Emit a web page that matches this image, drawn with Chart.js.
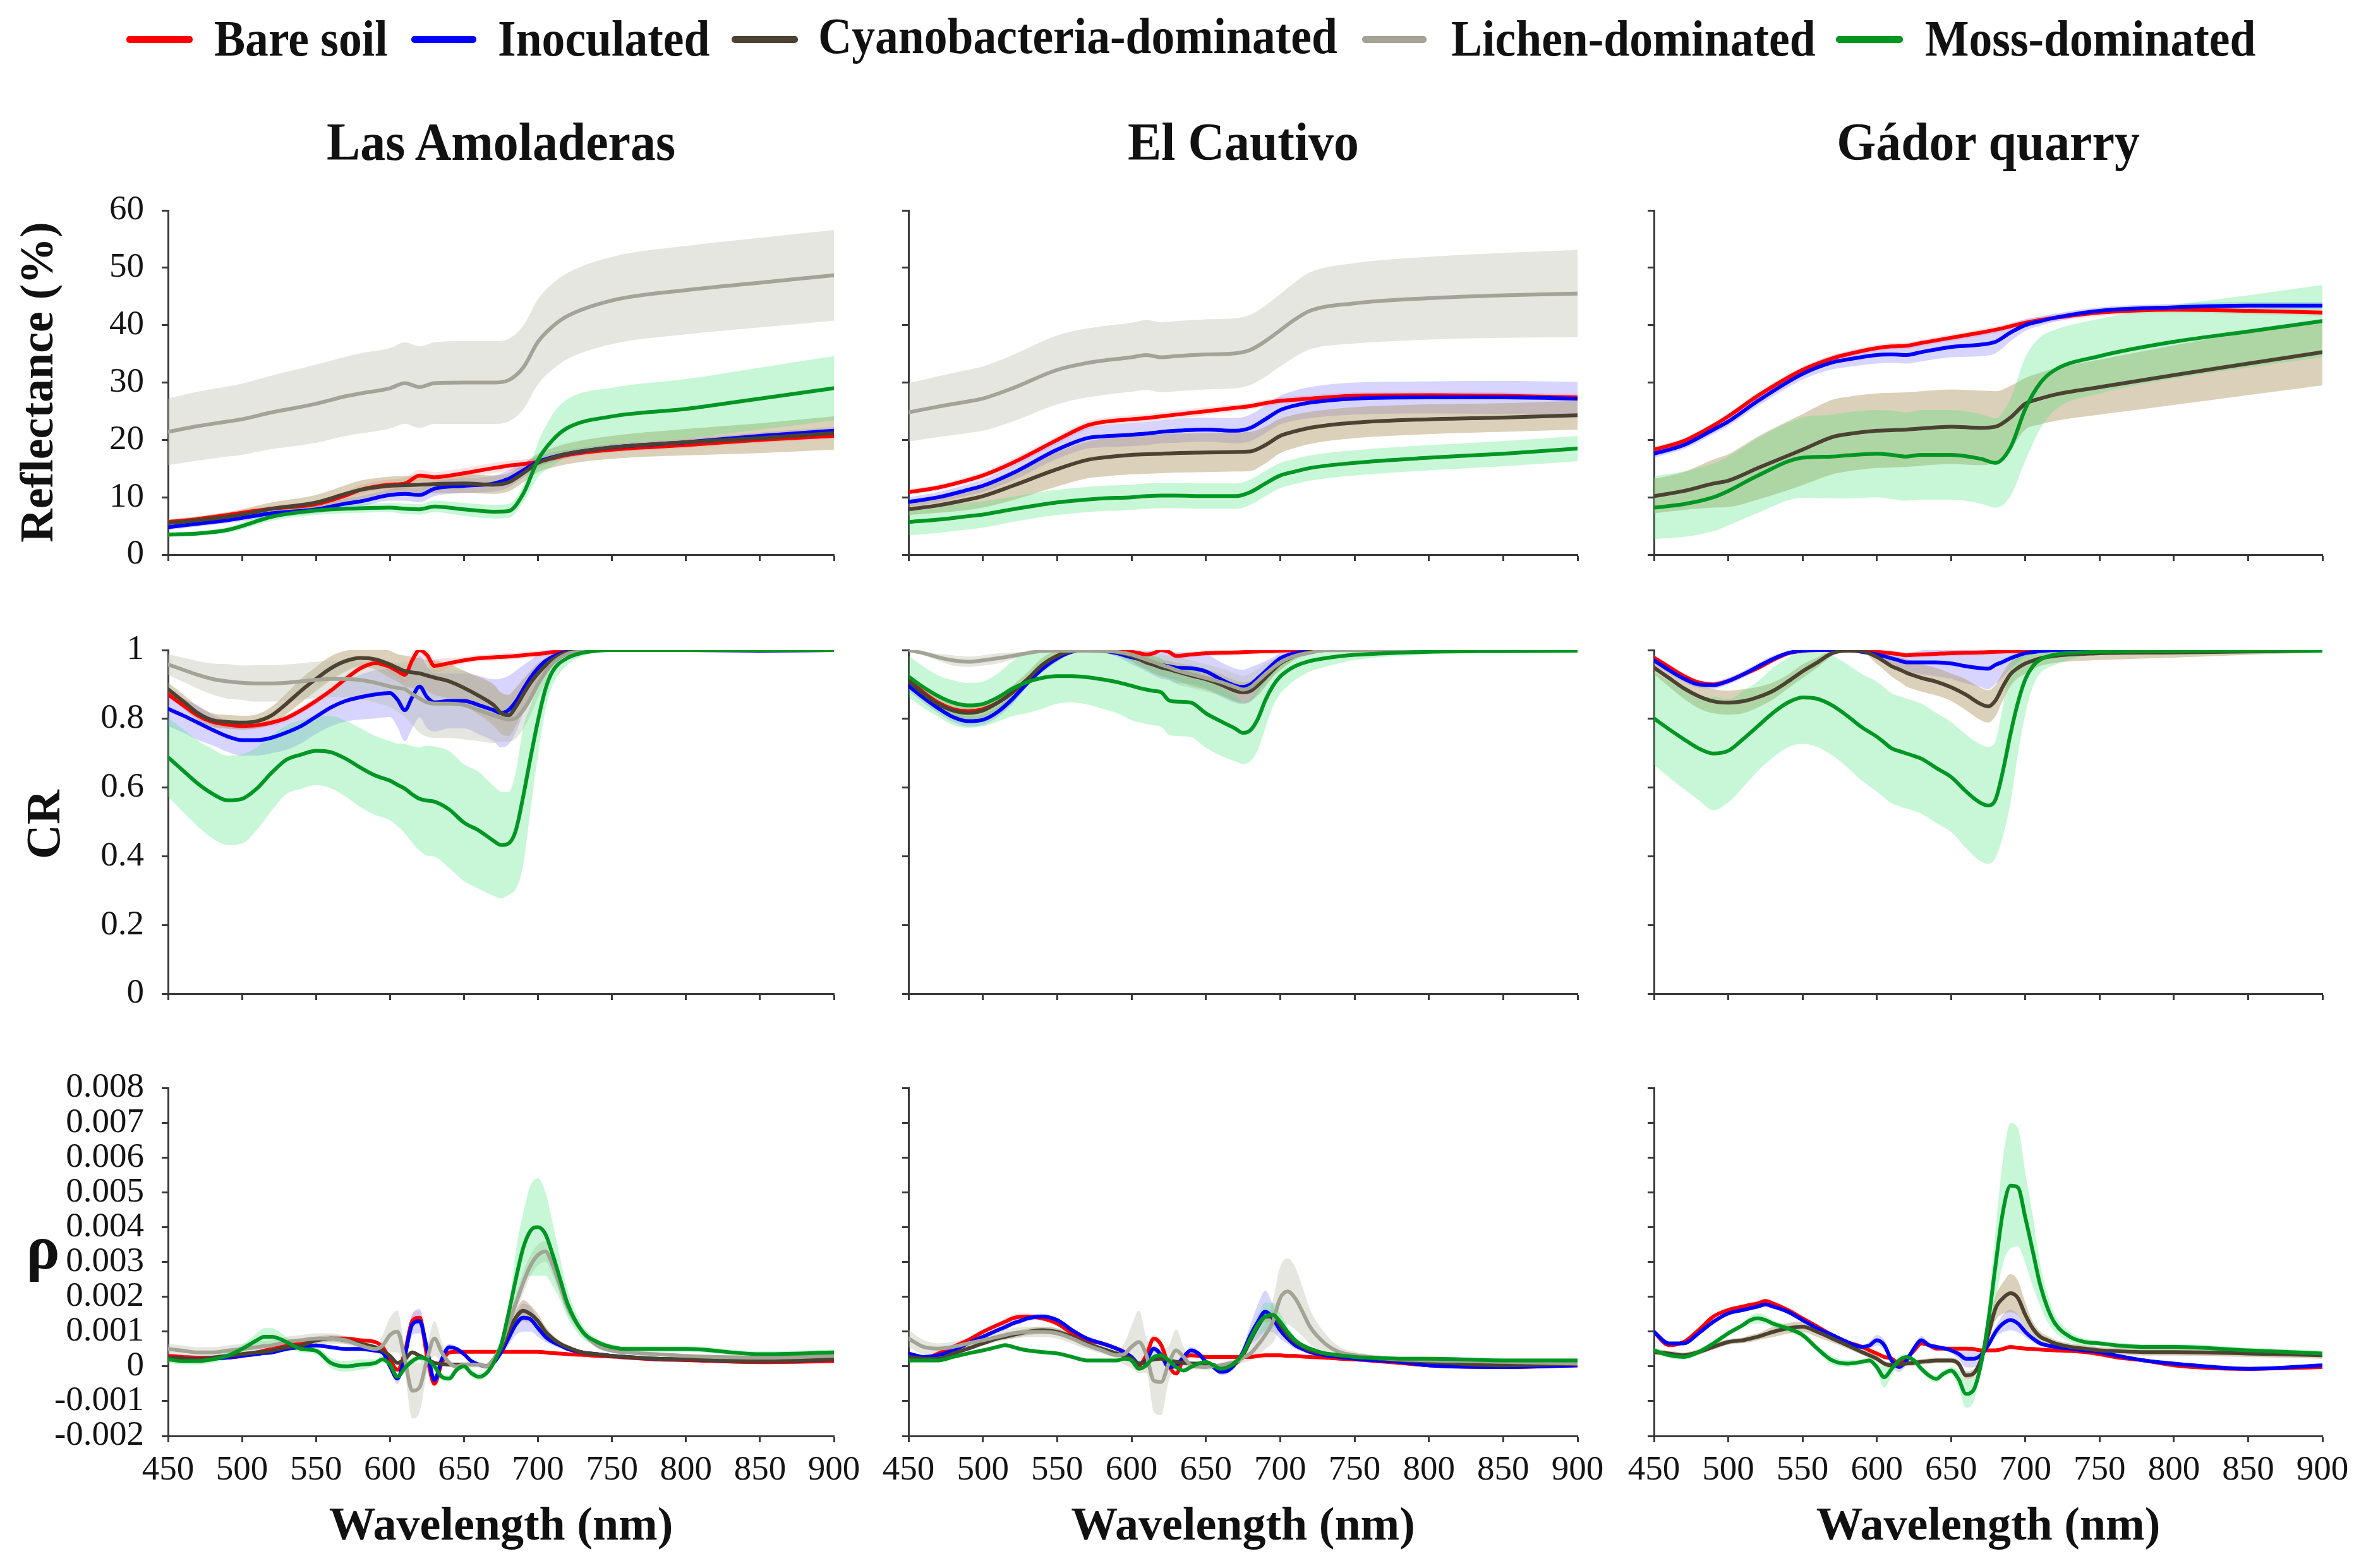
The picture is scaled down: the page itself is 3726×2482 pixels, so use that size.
<!DOCTYPE html>
<html>
<head>
<meta charset="utf-8">
<script src="https://cdn.jsdelivr.net/npm/chart.js@4.4.1/dist/chart.umd.min.js"></script>
<style>
  html, body { margin:0; padding:0; background:#fff; }
  #root { position:relative; width:3726px; height:2482px; background:#fff; overflow:hidden; font-family:'Liberation Serif','Times New Roman',serif; }
  canvas { position:absolute; }
  .t { position:absolute; white-space:nowrap; font-family:'Liberation Serif','Times New Roman',serif; font-weight:bold; color:#111; line-height:1; }
  .lg { position:absolute; height:11px; border-radius:5px; }
  #warm { position:absolute; left:-2000px; top:0; font-family:'Liberation Serif'; font-size:55px; }
</style>
</head>
<body>
<div id="warm">0123456789.-</div>
<div id="root"></div>
<script>
// ---------------- categories / labels ----------------
const SERIES = ['Bare soil','Inoculated','Cyanobacteria-dominated','Lichen-dominated','Moss-dominated'];
const SITES = ['Las Amoladeras','El Cautivo','Gádor quarry'];
const LINE_COLORS = ['#ff0000','#0000ff','#4b4232','#a3a396','#009624'];
const BAND_COLORS = ['rgba(255,90,90,0.18)','rgba(110,100,255,0.28)','rgba(175,150,100,0.45)','rgba(185,188,172,0.38)','rgba(70,230,120,0.30)'];

// ---------------- tick values / labels ----------------
const WL_TICKS = [450,500,550,600,650,700,750,800,850,900];
const WL_TICK_LABELS = ['450','500','550','600','650','700','750','800','850','900'];
const REFL_TICKS = [0,10,20,30,40,50,60];
const REFL_TICK_LABELS = ['0','10','20','30','40','50','60'];
const CR_TICKS = [0,0.2,0.4,0.6,0.8,1];
const CR_TICK_LABELS = ['0','0.2','0.4','0.6','0.8','1'];
const RHO_TICKS = [-0.002,-0.001,0,0.001,0.002,0.003,0.004,0.005,0.006,0.007,0.008];
const RHO_TICK_LABELS = ['-0.002','-0.001','0','0.001','0.002','0.003','0.004','0.005','0.006','0.007','0.008'];
const RHO_UNIT = 0.001; // rho arrays below are written in units of 0.001

// ---------------- wavelengths (nm) ----------------
const WL_R = [450,470,490,500,520,550,570,580,600,610,620,630,650,670,680,690,700,710,720,750,800,850,900];
const WL_CR = [450,460,470,480,490,500,510,520,530,540,550,560,570,580,590,600,605,610,615,620,625,630,640,650,660,670,675,680,685,690,695,700,705,710,720,730,740,750,800,850,900];
const WL_RHO = [450,460,470,480,490,500,510,515,520,525,530,540,550,560,570,580,590,595,600,605,610,615,620,625,630,635,640,645,650,655,660,665,670,675,680,685,690,695,700,705,710,715,720,730,740,750,760,780,800,850,900];

// ================= Reflectance (%) : mean and SD =================
// Las Amoladeras
const AM_REFL_BARE   = [5.7,6.2,6.9,7.3,8.0,8.8,10.3,11.3,12.2,12.4,13.8,13.5,14.2,15.1,15.5,15.8,16.2,16.8,17.4,18.3,19.1,20.0,20.7];
const AM_REFL_INOC   = [4.8,5.4,6.0,6.4,7.2,7.9,8.9,9.3,10.4,10.6,10.4,11.5,12.0,12.4,13.2,14.7,16.2,17.0,17.6,18.7,19.6,20.7,21.6];
const AM_REFL_CYANO  = [5.5,6.0,6.6,7.0,8.0,9.1,10.6,11.3,12.0,12.1,12.2,12.3,12.4,12.2,12.6,14.2,16.0,16.9,17.6,18.7,19.6,20.3,21.2];
const AM_REFL_LICHEN = [21.4,22.4,23.2,23.6,24.8,26.3,27.6,28.1,29.0,29.9,29.2,29.9,30.0,30.0,30.4,32.6,37.1,39.8,41.6,44.3,46.1,47.4,48.7];
const AM_REFL_MOSS   = [3.5,3.7,4.3,5.0,6.6,7.7,8.0,8.1,8.2,8.0,7.9,8.4,7.9,7.5,7.6,10.6,16.5,20.0,22.1,24.1,25.4,27.2,29.0];
const AM_REFL_BARE_SD   = [0.4,0.4,0.5,0.5,0.5,0.6,0.7,0.8,0.9,1.0,1.0,0.9,0.9,0.9,0.9,0.8,0.7,0.6,0.6,0.5,0.5,0.5,0.5];
const AM_REFL_INOC_SD   = [0.5,0.5,0.5,0.6,0.6,0.7,0.8,0.9,1.0,1.2,1.3,1.3,1.3,1.4,1.5,1.3,1.0,0.8,0.7,0.6,0.6,0.6,0.6];
const AM_REFL_CYANO_SD  = [0.6,0.7,0.8,0.9,1.1,1.3,1.5,1.6,1.6,1.6,1.6,1.6,1.6,1.6,1.6,1.6,1.6,1.7,1.8,2.0,2.3,2.6,2.9];
const AM_REFL_LICHEN_SD = [5.8,6.0,6.1,6.2,6.4,6.8,6.9,7.0,7.0,7.1,7.1,7.1,7.2,7.2,7.2,7.3,7.4,7.5,7.5,7.6,7.7,7.8,7.9];
const AM_REFL_MOSS_SD   = [0.4,0.4,0.5,0.6,0.7,0.8,0.8,0.8,0.8,0.9,0.9,1.0,1.1,1.2,1.2,1.5,3.0,4.5,5.0,5.0,5.2,5.4,5.6];
// El Cautivo
const EC_REFL_BARE   = [10.9,11.7,13.0,13.8,16.0,20.0,22.5,23.1,23.6,23.8,24.1,24.4,25.0,25.6,25.9,26.4,26.8,27.0,27.2,27.7,27.8,27.7,27.4];
const EC_REFL_INOC   = [9.2,10.0,11.3,12.0,14.2,18.3,20.3,20.6,20.9,21.1,21.4,21.6,21.8,21.6,22.1,23.6,25.2,26.0,26.5,27.2,27.4,27.4,27.2];
const EC_REFL_CYANO  = [7.9,8.6,9.6,10.2,12.0,14.9,16.5,16.9,17.4,17.5,17.6,17.7,17.8,17.9,18.0,19.1,20.7,21.5,22.1,23.0,23.6,23.9,24.3];
const EC_REFL_LICHEN = [24.8,25.8,26.7,27.2,29.0,32.2,33.4,33.8,34.4,34.8,34.4,34.6,34.9,35.1,35.7,37.2,39.1,41.0,42.5,43.8,44.7,45.2,45.5];
const EC_REFL_MOSS   = [5.7,6.1,6.7,7.0,7.9,9.1,9.6,9.8,10.0,10.2,10.3,10.3,10.2,10.2,10.9,12.4,13.8,14.5,15.1,16.0,16.9,17.6,18.5];
const EC_REFL_BARE_SD   = [0.5,0.5,0.6,0.6,0.7,0.7,0.7,0.7,0.7,0.7,0.7,0.7,0.7,0.6,0.6,0.6,0.6,0.6,0.6,0.6,0.6,0.6,0.6];
const EC_REFL_INOC_SD   = [0.8,0.9,1.0,1.1,1.3,1.6,1.8,1.9,2.0,2.0,2.0,2.1,2.1,2.2,2.3,2.4,2.5,2.6,2.7,2.8,2.8,2.9,2.9];
const EC_REFL_CYANO_SD  = [1.0,1.3,1.8,2.0,2.5,3.0,3.2,3.3,3.4,3.4,3.4,3.4,3.4,3.4,3.4,3.2,3.0,2.9,2.8,2.7,2.6,2.5,2.5];
const EC_REFL_LICHEN_SD = [5.1,5.3,5.5,5.6,5.8,6.0,6.0,6.0,6.0,6.1,6.1,6.1,6.1,6.1,6.1,6.2,6.3,6.5,6.7,7.0,7.2,7.4,7.6];
const EC_REFL_MOSS_SD   = [2.3,2.3,2.3,2.3,2.2,2.2,2.2,2.2,2.2,2.2,2.2,2.2,2.2,2.2,2.2,2.2,2.2,2.2,2.2,2.2,2.2,2.2,2.2];
// Gádor quarry
const GQ_REFL_BARE   = [18.3,19.8,22.5,24.1,27.7,32.2,34.2,34.9,36.0,36.3,36.4,36.9,37.8,38.7,39.2,39.8,40.4,40.9,41.3,42.2,42.7,42.5,42.2];
const GQ_REFL_INOC   = [17.6,19.1,21.8,23.2,26.8,31.5,33.5,34.0,34.8,34.9,34.8,35.3,36.2,36.6,37.1,38.7,40.0,40.7,41.3,42.5,43.1,43.4,43.4];
const GQ_REFL_CYANO  = [10.2,11.1,12.4,12.9,15.1,18.3,20.5,21.0,21.6,21.7,21.8,22.0,22.3,22.1,22.3,23.9,26.3,27.2,27.9,29.2,31.3,33.3,35.3];
const GQ_REFL_MOSS   = [8.2,8.8,10.0,11.1,13.8,16.9,17.1,17.3,17.6,17.4,17.1,17.4,17.4,16.7,16.0,18.7,25.4,29.9,32.2,34.6,37.1,38.9,40.7];
const GQ_REFL_BARE_SD  = [0.5,0.5,0.5,0.5,0.6,0.6,0.6,0.6,0.6,0.6,0.6,0.6,0.6,0.6,0.6,0.6,0.6,0.6,0.6,0.6,0.6,0.6,0.6];
const GQ_REFL_INOC_SD  = [0.7,0.7,0.8,0.8,0.9,1.0,1.2,1.3,1.5,1.5,1.5,1.6,1.8,2.0,2.0,1.5,1.0,0.8,0.7,0.6,0.6,0.6,0.6];
const GQ_REFL_CYANO_SD = [3.0,3.3,4.2,4.6,5.5,6.2,6.5,6.5,6.5,6.5,6.5,6.5,6.5,6.5,6.2,5.5,4.5,4.5,4.6,4.8,5.2,5.5,5.8];
const GQ_REFL_MOSS_SD  = [5.5,5.7,5.9,6.0,6.5,7.0,7.3,7.5,7.6,7.7,7.7,7.8,7.8,7.8,7.8,8.5,9.0,8.0,7.0,6.5,6.4,6.3,6.3];

// ================= CR : mean and SD =================
// Las Amoladeras
const AM_CR_BARE   = [.871,.840,.810,.791,.783,.779,.781,.789,.802,.825,.852,.882,.916,.947,.962,.951, .939,.928,.970,1.0,.985,.954, .962,.970,.976,.979, .980,.981,.983,.985,.987,.989,.991,.994, .998,1,1,1, 1,1,1];
const AM_CR_INOC   = [.829,.810,.789,.768,.749,.738,.738,.745,.760,.779,.806,.833,.852,.863,.871,.875, .856,.825,.863,.894,.863,.848, .852,.852,.840,.825, .817,.825,.850,.886,.920,.947,.968,.981, .996,1,1,1, 1,.998,1];
const AM_CR_CYANO  = [.886,.852,.817,.796,.791,.789,.793,.810,.844,.882,.916,.947,.968,.977,.973,.958, .948,.939,.935,.932,.926,.920, .909,.890,.867,.840, .817,.810,.835,.871,.905,.932,.955,.973, .994,1,1,1, 1,1,1];
const AM_CR_LICHEN = [.958,.943,.928,.916,.909,.905,.903,.903,.905,.909,.913,.916,.916,.913,.905,.894, .890,.886,.872,.859,.848,.844, .844,.840,.825,.810, .803,.798,.802,.825,.860,.901,.935,.962, .989,.996,1,1, 1,1,1];
const AM_CR_MOSS   = [.688,.650,.612,.582,.563,.567,.597,.643,.681,.696,.707,.703,.684,.658,.635,.620, .608,.597,.580,.567,.562,.559, .536,.498,.475,.445, .433,.437,.475,.574,.688,.795,.886,.939, .977,.992,.998,1, 1,1,1];
const AM_CR_BARE_SD   = [.01,.01,.01,.01,.01,.01,.01,.01,.01,.01,.01,.01,.01,.01,.01,.015, .02,.02,.02,.02,.02,.02, .015,.01,.01,.01, .01,.01,.01,.01,.01,.01,.01,.01, .005,0,0,0, 0,0,0];
const AM_CR_INOC_SD   = [.05,.05,.05,.045,.045,.045,.045,.045,.05,.05,.05,.055,.06,.065,.07,.07, .08,.09,.09,.09,.09,.085, .08,.08,.085,.09, .1,.1,.09,.07,.05,.04,.03,.02, .01,.005,0,0, 0,0,0];
const AM_CR_CYANO_SD  = [.02,.02,.02,.02,.02,.02,.02,.025,.03,.035,.035,.035,.03,.025,.03,.04, .04,.045,.045,.045,.045,.05, .05,.05,.055,.06, .06,.06,.055,.045,.035,.03,.02,.015, .01,.005,0,0, 0,0,0];
const AM_CR_LICHEN_SD = [.03,.035,.04,.045,.05,.05,.053,.053,.053,.053,.053,.053,.053,.055,.058,.06, .07,.08,.09,.1,.1,.1, .1,.1,.09,.08, .07,.065,.06,.055,.05,.04,.03,.02, .01,.005,0,0, 0,0,0];
const AM_CR_MOSS_SD   = [.115,.12,.125,.13,.13,.13,.12,.11,.1,.1,.1,.105,.11,.115,.115,.115, .12,.13,.14,.15,.16,.16, .17,.17,.17,.16, .155,.15,.17,.2,.15,.1,.06,.04, .02,.01,.005,0, 0,0,0];
// El Cautivo
const EC_CR_BARE   = [.915,.877,.847,.828,.822,.828,.847,.877,.915,.953,.983,.998,1,1,.998,.995, .991,.987,.991,1,.995,.983, .987,.991,.992,.993, .994,.995,.996,.997,.997,.998,.999,1, 1,1,1,1, 1,1,1];
const EC_CR_INOC   = [.896,.862,.831,.805,.793,.797,.820,.858,.904,.945,.976,.995,1,.998,.991,.979, .974,.968,.962,.957,.953,.949, .947,.938,.915,.896, .893,.900,.918,.938,.958,.976,.985,.991, .998,1,1,1, 1,1,1];
const EC_CR_CYANO  = [.911,.873,.843,.824,.817,.824,.847,.877,.915,.957,.983,.997,1,.998,.995,.983, .974,.964,.957,.949,.944,.938, .926,.915,.900,.881, .877,.881,.898,.919,.941,.961,.973,.983, .995,1,1,1, 1,1,1];
const EC_CR_LICHEN = [1.0,.991,.979,.970,.966,.970,.976,.983,.991,.997,.998,.998,.998,.997,.995,.987, .980,.972,.965,.957,.950,.942, .930,.919,.907,.892, .885,.892,.910,.930,.948,.964,.975,.983, .992,1,1,1, 1,1,1];
const EC_CR_MOSS   = [.923,.892,.866,.847,.839,.843,.862,.888,.907,.919,.924,.924,.921,.915,.907,.896, .890,.885,.881,.877,.854,.850, .847,.816,.793,.771, .759,.767,.800,.854,.895,.923,.940,.953, .968,.976,.982,.986, .995,.997,.998];
const EC_CR_BARE_SD   = [.008,.008,.008,.008,.008,.008,.008,.008,.008,.008,.008,.008,.008,.008,.008,.008, .008,.008,.008,.008,.008,.008, .008,.008,.008,.008, .008,.008,.008,.008,.008,.008,.008,.008, .008,.008,.008,.008, .008,.008,.008];
const EC_CR_INOC_SD   = [.015,.015,.015,.015,.015,.015,.015,.015,.01,.01,.01,.005,0,.005,.01,.02, .025,.03,.035,.04,.04,.045, .045,.05,.05,.05, .05,.05,.04,.03,.02,.015,.01,.01, .005,0,0,0, 0,0,0];
const EC_CR_CYANO_SD  = [.02,.02,.02,.02,.02,.02,.02,.02,.02,.02,.015,.005,0,.005,.01,.015, .02,.02,.025,.025,.025,.025, .03,.03,.03,.03, .03,.03,.03,.025,.02,.02,.015,.01, .005,0,0,0, 0,0,0];
const EC_CR_LICHEN_SD = [0,.005,.01,.015,.015,.015,.015,.01,.005,.003,.002,.002,.002,.003,.005,.01, .015,.02,.025,.03,.035,.04, .04,.04,.04,.04, .04,.04,.035,.03,.025,.02,.015,.01, .005,0,0,0, 0,0,0];
const EC_CR_MOSS_SD   = [.06,.06,.06,.065,.065,.065,.07,.08,.09,.09,.08,.076,.079,.085,.09,.1, .1,.1,.1,.1,.1,.1, .1,.1,.1,.095, .09,.09,.09,.08,.06,.05,.045,.04, .03,.025,.02,.015, .008,.005,.003];
// Gádor quarry
const GQ_CR_BARE   = [.978,.951,.925,.906,.900,.910,.929,.948,.971,.990,.998,1,1,1,.998,.995, .993,.991,.988,.985,.986,.987, .989,.991,.992,.993, .994,.995,.996,.997,.997,.998,.999,1, 1,1,1,1, 1,1,1];
const GQ_CR_INOC   = [.970,.942,.917,.900,.898,.910,.929,.952,.974,.991,.998,1,1,1,.995,.987, .982,.976,.970,.964,.964,.964, .964,.961,.953,.947, .946,.957,.966,.976,.984,.991,.994,.997, 1,1,1,1, 1,1,1];
const GQ_CR_CYANO  = [.949,.919,.889,.866,.851,.847,.851,.863,.881,.908,.938,.964,.991,.998,.997,.980, .967,.953,.944,.934,.926,.919, .908,.892,.870,.843, .836,.854,.895,.930,.948,.961,.969,.976, .983,.987,.989,.991, .993,.996,.998];
const GQ_CR_MOSS   = [.801,.770,.741,.714,.699,.707,.741,.779,.817,.847,.862,.858,.839,.809,.775,.748, .731,.714,.706,.699,.692,.684, .657,.631,.589,.555, .548,.566,.650,.756,.847,.915,.953,.972, .987,.992,.994,.995, .997,.998,.998];
const GQ_CR_BARE_SD  = [.008,.008,.008,.008,.008,.008,.008,.008,.008,.008,.008,.008,.008,.008,.008,.008, .008,.008,.008,.008,.008,.008, .008,.008,.008,.008, .008,.008,.008,.008,.008,.008,.008,.008, .008,.008,.008,.008, .008,.008,.008];
const GQ_CR_INOC_SD  = [.01,.01,.01,.01,.01,.01,.01,.01,.01,.005,.002,0,0,0,.005,.01, .012,.015,.02,.025,.03,.035, .04,.045,.05,.055, .06,.055,.045,.03,.02,.01,.005,.003, 0,0,0,0, 0,0,0];
const GQ_CR_CYANO_SD = [.02,.025,.03,.035,.035,.035,.035,.03,.025,.02,.02,.015,.008,.002,.003,.02, .025,.03,.035,.04,.04,.04, .04,.04,.045,.047, .047,.045,.04,.035,.03,.03,.025,.022, .02,.02,.02,.02, .015,.01,.005];
const GQ_CR_MOSS_SD  = [.135,.14,.145,.15,.165,.15,.14,.13,.13,.13,.135,.14,.145,.15,.155,.16, .16,.16,.16,.16,.16,.16, .16,.16,.165,.17, .17,.17,.19,.2,.15,.1,.06,.04, .03,.02,.01,.005, .003,.002,.002];

// ================= rho (units of 0.001) : mean and SD =================
// Las Amoladeras
const AM_RHO_BARE   = [.3,.27,.25,.25,.25,.3,.4, .45,.5,.55,.6,.65,.75,.8, .8,.75,.7,.55,.2, -.1,.4,1.3,1.4,.3,-.5,.1,.4, .42,.42,.42,.42,.42,.42,.42,.42, .42,.42,.42,.42,.4,.38,.37,.35, .33,.3,.28,.25,.2,.18,.12,.15];
const AM_RHO_INOC   = [.25,.22,.2,.22,.25,.3,.35, .38,.4,.45,.5,.55,.6,.55, .5,.5,.45,.4,0, -.35,.3,1.2,1.3,.5,-.4,.2,.55, .5,.35,.15,.05,0,.1,.4,.8, 1.2,1.4,1.35,1.1,.85,.7,.6,.5, .4,.35,.3,.27,.22,.2,.15,.2];
const AM_RHO_CYANO  = [.25,.22,.2,.25,.3,.35,.4, .42,.45,.5,.55,.6,.75,.8, .75,.65,.55,.45,.3, .1,.2,.4,.3,.2,.1,.07,.05, .05,.05,.05,.05,0,.2,.5,1.0, 1.4,1.6,1.5,1.3,1.0,.8,.65,.55, .4,.35,.3,.27,.22,.2,.15,.2];
const AM_RHO_LICHEN = [.5,.45,.4,.4,.45,.5,.55, .58,.6,.65,.7,.75,.8,.8, .75,.6,.5,.6,.9, 1.0,.2,-.7,-.6,.2,.8,.4,.1, 0,.05,.05,.05,0,.2,.6,1.2, 1.8,2.4,2.9,3.2,3.3,2.9,2.3,1.7, 1.0,.6,.45,.4,.35,.3,.25,.3];
const AM_RHO_MOSS   = [.2,.15,.15,.2,.3,.5,.75, .85,.85,.8,.7,.5,.45,.1, 0,.05,.1,.2,.05, -.3,-.05,.15,.25,.2,0,-.3,-.35, -.1,0,-.2,-.3,-.2,.1,.6,1.5, 2.5,3.4,3.9,4.0,3.8,3.2,2.5,1.8, 1.0,.7,.55,.5,.5,.5,.35,.4];
const AM_RHO_BARE_SD   = [.05,.05,.05,.05,.05,.05,.05, .05,.05,.05,.05,.05,.05,.05, .05,.05,.05,.05,.05, .05,.1,.2,.2,.1,.1,.05,.05, .05,.05,.05,.05,.05,.05,.05,.05, .05,.05,.05,.05,.05,.05,.05,.05, .05,.05,.05,.05,.05,.05,.05,.05];
const AM_RHO_INOC_SD   = [.05,.05,.05,.05,.05,.05,.05, .05,.05,.05,.05,.05,.05,.05, .05,.05,.05,.05,.1, .15,.2,.3,.35,.2,.15,.1,.1, .05,.05,.05,.05,.05,.05,.1,.2, .3,.4,.35,.25,.15,.1,.08,.06, .05,.05,.05,.05,.05,.05,.05,.05];
const AM_RHO_CYANO_SD  = [.06,.06,.06,.06,.06,.06,.06, .06,.06,.06,.08,.1,.1,.1, .1,.08,.06,.06,.06, .06,.06,.06,.06,.06,.06,.06,.06, .06,.06,.06,.06,.06,.06,.1,.15, .2,.3,.25,.2,.15,.1,.08,.06, .05,.05,.05,.05,.05,.05,.05,.05];
const AM_RHO_LICHEN_SD = [.15,.15,.15,.15,.15,.15,.15, .15,.15,.15,.15,.15,.15,.15, .12,.1,.1,.3,.5, .6,.4,.8,.7,.4,.5,.3,.1, .08,.08,.08,.08,.08,.1,.15,.2, .25,.3,.3,.3,.3,.3,.25,.2, .12,.08,.06,.05,.05,.05,.05,.05];
const AM_RHO_MOSS_SD   = [.1,.1,.1,.1,.1,.12,.2, .25,.25,.2,.15,.1,.1,.15, .15,.15,.1,.1,.1, .1,.1,.1,.1,.1,.1,.1,.1, .1,.1,.1,.1,.1,.1,.1,.1, .8,1.0,1.3,1.4,1.2,.9,.6,.4, .2,.1,.08,.08,.08,.08,.08,.08];
// El Cautivo
const EC_RHO_BARE   = [.27,.22,.37,.56,.75,.99,1.19, 1.28,1.38,1.42,1.43,1.38,1.23,.95, .75,.66,.51,.41,.17, .03,.32,.8,.61,.03,-.21,.22,.32, .3,.27,.27,.27,.27,.27,.27,.27, .3,.32,.32,.32,.3,.3,.28,.27, .25,.22,.2,.17,.1,.03,-.02,.03];
const EC_RHO_INOC   = [.37,.27,.32,.46,.66,.85,1.04, 1.13,1.23,1.3,1.38,1.43,1.33,1.04, .8,.66,.51,.41,.27, .08,.17,.51,.32,-.02,.03,.27,.46, .37,.13,-.02,-.16,-.12,.08,.41,.9, 1.28,1.57,1.38,1.04,.8,.61,.5,.41, .32,.27,.22,.18,.13,.03,-.02,.03];
const EC_RHO_CYANO  = [.27,.22,.22,.37,.51,.66,.8, .85,.9,.95,.99,1.04,.99,.85, .66,.51,.37,.3,.22, .08,.13,.2,.22,.18,.13,.1,.08, .08,.08,.04,-.02,0,.08,.32,.75, 1.14,1.43,1.43,1.19,.9,.7,.56,.46, .37,.32,.27,.24,.18,.13,.03,.08];
const EC_RHO_LICHEN = [.8,.56,.51,.56,.66,.75,.85, .9,.95,.97,.99,.99,.95,.8, .61,.46,.32,.35,.56, .7,.32,-.41,-.45,.08,.46,.27,.03, -.01,-.02,0,.03,.08,.13,.25,.37, .61,.9,1.28,1.96,2.15,1.96,1.57,1.14, .66,.41,.32,.27,.2,.17,.13,.08];
const EC_RHO_MOSS   = [.17,.17,.17,.27,.37,.46,.56, .61,.56,.5,.46,.41,.37,.27, .17,.17,.17,.22,.17, -.07,.03,.27,.32,.17,-.02,-.12,-.02, .08,.13,.03,-.07,-.02,.13,.37,.8, 1.19,1.43,1.48,1.28,.99,.75,.6,.51, .37,.32,.27,.25,.22,.22,.17,.17];
const EC_RHO_BARE_SD   = [.06,.06,.06,.06,.06,.06,.06, .1,.1,.1,.1,.08,.06,.06, .06,.06,.06,.06,.06, .06,.08,.1,.1,.06,.06,.06,.06, .06,.06,.06,.06,.06,.06,.06,.06, .06,.06,.06,.06,.06,.06,.06,.06, .06,.06,.06,.06,.06,.06,.06,.06];
const EC_RHO_INOC_SD   = [.06,.06,.06,.06,.06,.06,.06, .08,.08,.08,.08,.08,.06,.06, .06,.06,.06,.06,.06, .06,.08,.1,.1,.06,.06,.06,.1, .08,.06,.06,.1,.08,.06,.15,.3, .5,.6,.4,.25,.15,.1,.08,.06, .06,.06,.06,.06,.06,.06,.06,.06];
const EC_RHO_CYANO_SD  = [.06,.06,.06,.06,.06,.06,.06, .08,.1,.1,.1,.1,.1,.08, .06,.06,.06,.06,.06, .06,.06,.06,.06,.06,.06,.06,.06, .06,.06,.06,.06,.06,.06,.06,.06, .1,.15,.15,.12,.1,.08,.06,.06, .06,.06,.06,.06,.06,.06,.06,.06];
const EC_RHO_LICHEN_SD = [.25,.2,.15,.15,.15,.15,.15, .15,.15,.15,.15,.15,.15,.15, .12,.1,.1,.3,.6, .9,.5,.9,.95,.5,.6,.3,.1, .08,.08,.08,.08,.08,.1,.15,.2, .3,.4,.6,.9,.95,.9,.7,.5, .3,.15,.1,.08,.06,.06,.06,.06];
const EC_RHO_MOSS_SD   = [.05,.05,.05,.05,.05,.05,.05, .06,.06,.06,.06,.06,.06,.06, .05,.05,.05,.05,.05, .05,.05,.05,.05,.05,.05,.05,.05, .05,.05,.05,.05,.05,.05,.1,.2, .3,.4,.35,.25,.15,.1,.08,.06, .06,.06,.06,.06,.06,.06,.06,.06];
// Gádor quarry
const GQ_RHO_BARE   = [.99,.61,.7,1.04,1.43,1.62,1.72, 1.77,1.81,1.88,1.81,1.62,1.38,1.14, .9,.7,.56,.46,.37, .27,.22,.08,.22,.45,.66,.61,.51, .51,.51,.51,.51,.5,.46,.46,.46, .5,.56,.53,.51,.5,.48,.47,.46, .44,.41,.35,.27,.17,.03,-.07,-.02];
const GQ_RHO_INOC   = [.99,.66,.66,.95,1.28,1.52,1.62, 1.67,1.72,1.78,1.72,1.57,1.33,1.09, .9,.7,.56,.6,.75, .61,.17,-.02,.17,.51,.75,.61,.56, .52,.46,.36,.22,.22,.32,.61,.99, 1.23,1.33,1.23,.99,.8,.66,.6,.56, .51,.46,.41,.32,.17,.08,-.07,.03];
const GQ_RHO_CYANO  = [.41,.37,.32,.41,.56,.7,.75, .8,.85,.92,.99,1.09,1.14,.99, .8,.61,.41,.32,.22, .08,.03,.05,.08,.1,.13,.15,.17, .17,.17,.08,-.26,-.21,.17,.9,1.67, 1.96,2.1,1.96,1.48,1.09,.85,.75,.66, .56,.51,.46,.44,.41,.41,.37,.32];
const GQ_RHO_MOSS   = [.46,.32,.27,.41,.66,.95,1.19, 1.33,1.38,1.33,1.23,1.09,.9,.51, .17,.08,.13,.17,-.02, -.31,-.07,.17,.27,.17,-.07,-.26,-.36, -.21,-.12,-.36,-.79,-.69,.03,1.28,2.92, 4.46,5.19,5.14,4.27,3.31,2.34,1.67,1.23, .85,.7,.66,.61,.56,.56,.46,.37];
const GQ_RHO_BARE_SD  = [.05,.05,.05,.05,.05,.05,.05, .05,.05,.05,.05,.05,.05,.05, .05,.05,.05,.05,.05, .05,.05,.05,.05,.05,.05,.05,.05, .05,.05,.05,.05,.05,.05,.05,.05, .05,.05,.05,.05,.05,.05,.05,.05, .05,.05,.05,.05,.05,.05,.05,.05];
const GQ_RHO_INOC_SD  = [.05,.05,.05,.05,.05,.05,.05, .05,.05,.05,.05,.05,.05,.05, .05,.05,.05,.1,.15, .15,.15,.15,.12,.1,.12,.08,.06, .06,.08,.15,.25,.25,.2,.12,.15, .25,.3,.25,.15,.1,.08,.06,.05, .05,.05,.05,.05,.05,.05,.05,.05];
const GQ_RHO_CYANO_SD = [.08,.08,.08,.08,.08,.08,.08, .1,.1,.12,.15,.15,.15,.15, .12,.1,.08,.08,.08, .08,.08,.08,.08,.08,.08,.08,.08, .08,.08,.1,.12,.12,.1,.2,.35, .45,.55,.5,.35,.2,.15,.12,.1, .1,.1,.1,.1,.1,.1,.1,.1];
const GQ_RHO_MOSS_SD  = [.08,.08,.08,.08,.08,.08,.08, .12,.15,.12,.1,.1,.1,.1, .12,.1,.08,.08,.15, .3,.2,.12,.1,.1,.1,.1,.1, .1,.1,.25,.4,.35,.15,.5,1.0, 1.5,1.8,1.7,1.3,1.0,.6,.4,.25, .15,.1,.08,.08,.08,.08,.08,.08];

// ---------------- panel assembly ----------------
const PANELS = [
  {row:0, col:0, wl:WL_R, scale:1, series:[[AM_REFL_BARE,AM_REFL_BARE_SD],[AM_REFL_INOC,AM_REFL_INOC_SD],[AM_REFL_CYANO,AM_REFL_CYANO_SD],[AM_REFL_LICHEN,AM_REFL_LICHEN_SD],[AM_REFL_MOSS,AM_REFL_MOSS_SD]]},
  {row:0, col:1, wl:WL_R, scale:1, series:[[EC_REFL_BARE,EC_REFL_BARE_SD],[EC_REFL_INOC,EC_REFL_INOC_SD],[EC_REFL_CYANO,EC_REFL_CYANO_SD],[EC_REFL_LICHEN,EC_REFL_LICHEN_SD],[EC_REFL_MOSS,EC_REFL_MOSS_SD]]},
  {row:0, col:2, wl:WL_R, scale:1, series:[[GQ_REFL_BARE,GQ_REFL_BARE_SD],[GQ_REFL_INOC,GQ_REFL_INOC_SD],[GQ_REFL_CYANO,GQ_REFL_CYANO_SD],null,[GQ_REFL_MOSS,GQ_REFL_MOSS_SD]]},
  {row:1, col:0, wl:WL_CR, scale:1, series:[[AM_CR_BARE,AM_CR_BARE_SD],[AM_CR_INOC,AM_CR_INOC_SD],[AM_CR_CYANO,AM_CR_CYANO_SD],[AM_CR_LICHEN,AM_CR_LICHEN_SD],[AM_CR_MOSS,AM_CR_MOSS_SD]]},
  {row:1, col:1, wl:WL_CR, scale:1, series:[[EC_CR_BARE,EC_CR_BARE_SD],[EC_CR_INOC,EC_CR_INOC_SD],[EC_CR_CYANO,EC_CR_CYANO_SD],[EC_CR_LICHEN,EC_CR_LICHEN_SD],[EC_CR_MOSS,EC_CR_MOSS_SD]]},
  {row:1, col:2, wl:WL_CR, scale:1, series:[[GQ_CR_BARE,GQ_CR_BARE_SD],[GQ_CR_INOC,GQ_CR_INOC_SD],[GQ_CR_CYANO,GQ_CR_CYANO_SD],null,[GQ_CR_MOSS,GQ_CR_MOSS_SD]]},
  {row:2, col:0, wl:WL_RHO, scale:RHO_UNIT, series:[[AM_RHO_BARE,AM_RHO_BARE_SD],[AM_RHO_INOC,AM_RHO_INOC_SD],[AM_RHO_CYANO,AM_RHO_CYANO_SD],[AM_RHO_LICHEN,AM_RHO_LICHEN_SD],[AM_RHO_MOSS,AM_RHO_MOSS_SD]]},
  {row:2, col:1, wl:WL_RHO, scale:RHO_UNIT, series:[[EC_RHO_BARE,EC_RHO_BARE_SD],[EC_RHO_INOC,EC_RHO_INOC_SD],[EC_RHO_CYANO,EC_RHO_CYANO_SD],[EC_RHO_LICHEN,EC_RHO_LICHEN_SD],[EC_RHO_MOSS,EC_RHO_MOSS_SD]]},
  {row:2, col:2, wl:WL_RHO, scale:RHO_UNIT, series:[[GQ_RHO_BARE,GQ_RHO_BARE_SD],[GQ_RHO_INOC,GQ_RHO_INOC_SD],[GQ_RHO_CYANO,GQ_RHO_CYANO_SD],null,[GQ_RHO_MOSS,GQ_RHO_MOSS_SD]]}
];
const ROW_Y = [
  {min:0, max:60, ticks:REFL_TICKS, labels:REFL_TICK_LABELS},
  {min:0, max:1, ticks:CR_TICKS, labels:CR_TICK_LABELS},
  {min:-0.002, max:0.008, ticks:RHO_TICKS, labels:RHO_TICK_LABELS}
];

// ---------------- layout (page pixels) ----------------
const COL_L = [266, 1438, 2618], COL_R = [1320, 2497, 3676];
const ROW_T = [333, 1029, 1722], ROW_B = [878, 1573, 2273];
const ML = 270, MT = 80, MR = 70, MB = 130;
const FONT = "'Liberation Serif', 'Times New Roman', serif";
const AXIS_COLOR = '#3a3a3a';
Chart.defaults.font.family = FONT;

const root = document.getElementById('root');

function addText(txt, css) {
  const d = document.createElement('div');
  d.className = 't';
  d.textContent = txt;
  Object.assign(d.style, css);
  root.appendChild(d);
  return d;
}

// legend
const LEGEND_POS = [[200,305,339,21],[651,754,788,21],[1158,1263,1295,17],[2156,2258,2297,21],[2906,3012,3047,21]];
SERIES.forEach((name, i) => {
  const [x0, x1, tx, ty] = LEGEND_POS[i];
  const l = document.createElement('div');
  l.className = 'lg';
  Object.assign(l.style, {left: x0+'px', top: '57px', width: (x1-x0)+'px', background: LINE_COLORS[i]});
  root.appendChild(l);
  addText(name, {left: tx+'px', top: ty+'px', fontSize:'80px', transform:'scaleX(0.92)', transformOrigin:'left top'});
});

// column titles and x-axis titles
const COL_C = COL_L.map((l, i) => (l + COL_R[i]) / 2);
SITES.forEach((s, i) => {
  addText(s, {left: COL_C[i]+'px', top: '183px', fontSize:'84px', transform:'translateX(-50%) scaleX(0.95)'});
  addText('Wavelength (nm)', {left: COL_C[i]+'px', top: '2375px', fontSize:'74px', transform:'translateX(-50%)'});
});

// y-axis titles
addText('Reflectance (%)', {left:'58px', top:'605px', fontSize:'74px', transform:'translate(-50%,-50%) rotate(-90deg)'});
addText('CR', {left:'68px', top:'1305px', fontSize:'76px', transform:'translate(-50%,-50%) rotate(-90deg)'});
addText('ρ', {left:'68px', top:'1925px', fontSize:'100px', transform:'translateX(-50%)'});

// ---------------- charts ----------------
function buildDatasets(p) {
  const ds = [];
  p.series.forEach((s, i) => {
    if (!s) return;
    const [mean, sd] = s;
    ds.push({data: p.wl.map((x,k) => ({x, y:(mean[k]+sd[k])*p.scale})), borderWidth:0, borderColor:'rgba(0,0,0,0)', pointRadius:0, fill:'+1', backgroundColor:BAND_COLORS[i], order:20-i, cubicInterpolationMode:'monotone'});
    ds.push({data: p.wl.map((x,k) => ({x, y:(mean[k]-sd[k])*p.scale})), borderWidth:0, borderColor:'rgba(0,0,0,0)', pointRadius:0, fill:false, order:20-i, cubicInterpolationMode:'monotone'});
  });
  p.series.forEach((s, i) => {
    if (!s) return;
    ds.push({label: SERIES[i], data: p.wl.map((x,k) => ({x, y:s[0][k]*p.scale})), borderColor:LINE_COLORS[i], borderWidth:6, pointRadius:0, fill:false, order:5-i, cubicInterpolationMode:'monotone', borderCapStyle:'round', borderJoinStyle:'round'});
  });
  return ds;
}

const charts = [];
PANELS.forEach(p => {
  const w = COL_R[p.col] - COL_L[p.col], h = ROW_B[p.row] - ROW_T[p.row];
  const cw = ML + w + MR, ch = MT + h + MB;
  const cv = document.createElement('canvas');
  cv.width = cw; cv.height = ch;
  Object.assign(cv.style, {left:(COL_L[p.col]-ML)+'px', top:(ROW_T[p.row]-MT)+'px', width:cw+'px', height:ch+'px'});
  root.appendChild(cv);
  const yc = ROW_Y[p.row];
  const showX = p.row === 2, showY = p.col === 0;
  const tickFont = {family:FONT, size:55, style:'normal', weight:'normal'};
  charts.push(new Chart(cv.getContext('2d'), {
    type: 'line',
    data: { datasets: buildDatasets(p) },
    options: {
      responsive:false, animation:false, devicePixelRatio:1, events:[],
      layout: { padding: { left:0, top:MT, right:MR, bottom:0 } },
      plugins: { legend:{display:false}, tooltip:{enabled:false} },
      scales: {
        x: {
          type:'linear', min:450, max:900,
          afterBuildTicks: s => { s.ticks = WL_TICKS.map(v => ({value:v})); },
          afterFit: s => { s.height = MB; },
          ticks: { display:showX, autoSkip:false, maxRotation:0, padding:12, color:'#141414', font:tickFont, callback:(v,i) => WL_TICK_LABELS[i] },
          grid: { drawOnChartArea:false, drawTicks:true, tickLength:10, tickWidth:3, tickColor:AXIS_COLOR },
          border: { display:true, color:AXIS_COLOR, width:3 }
        },
        y: {
          type:'linear', position:'left', min:yc.min, max:yc.max,
          afterBuildTicks: s => { s.ticks = yc.ticks.map(v => ({value:v})); },
          afterFit: s => { s.width = ML; },
          ticks: { display:showY, autoSkip:false, padding:28, color:'#141414', font:tickFont, callback:(v,i) => yc.labels[i] },
          grid: { drawOnChartArea:false, drawTicks:true, tickLength:10, tickWidth:3, tickColor:AXIS_COLOR },
          border: { display:true, color:AXIS_COLOR, width:3 }
        }
      }
    }
  }));
});

// redraw once the serif face is surely available to canvas text
if (document.fonts && document.fonts.load) {
  document.fonts.load("55px 'Liberation Serif'").then(() => charts.forEach(c => c.update('none'))).catch(() => {});
}
</script>
</body>
</html>
